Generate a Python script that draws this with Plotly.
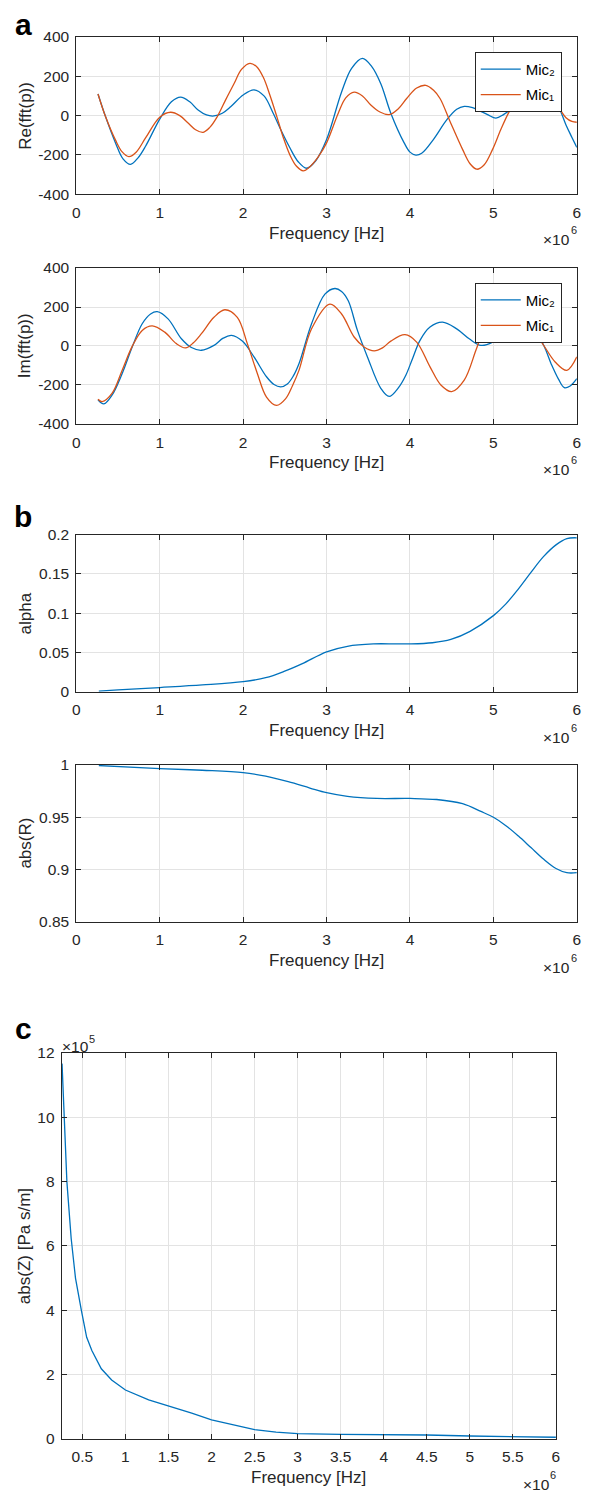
import plotly.graph_objects as go

# ---------------- data (frequency in units of 1e6 Hz) ----------------
re_mic2_f = [0.26, 0.35, 0.47, 0.56, 0.65, 0.74, 0.83, 1.0, 1.14, 1.25, 1.36, 1.46, 1.56, 1.65, 1.75,
             1.85, 2.0, 2.13, 2.25, 2.36, 2.46, 2.56, 2.66, 2.76, 2.87, 3.0, 3.18, 3.3, 3.43,
             3.54, 3.65, 3.77, 3.93, 4.0, 4.07, 4.14, 4.28, 4.44, 4.56, 4.65, 4.75, 4.83, 4.93, 5.03,
             5.12, 5.22, 5.35, 5.48, 5.6, 5.72, 5.79, 5.87, 5.94, 6.0]
re_mic2_v = [110, -5, -139, -220, -248, -215, -156, -18, 70, 94, 70, 28, 3, -2, 12,
             45, 105, 131, 100, 12, -80, -164, -235, -268, -230, -122, 120, 240, 291,
             250, 162, 12, -139, -186, -201, -192, -122, -22, 32, 47, 40, 25, 5, -13,
             5, 37, 100, 130, 120, 80, 36, -48, -110, -162]

re_mic1_f = [0.26, 0.35, 0.47, 0.55, 0.63, 0.72, 0.83, 1.0, 1.13, 1.24, 1.34, 1.43, 1.52, 1.6, 1.69,
             1.79, 1.89, 1.98, 2.08, 2.16, 2.24, 2.32, 2.4, 2.48, 2.56, 2.64, 2.72, 2.8, 2.9,
             3.0, 3.14, 3.23, 3.33, 3.43, 3.53, 3.64, 3.75, 3.86, 3.96, 4.08, 4.19, 4.28, 4.36,
             4.48, 4.63, 4.72, 4.8, 4.89, 4.99, 5.09, 5.19, 5.3, 5.45, 5.6, 5.72, 5.79, 5.87, 5.94, 6.0]
re_mic1_v = [110, -5, -125, -185, -209, -185, -114, -8, 17, 0, -38, -72, -85, -60, -5,
             80, 162, 235, 266, 250, 196, 105, 0, -110, -200, -258, -281, -260, -210,
             -139, 12, 90, 119, 100, 54, 18, 5, 35, 87, 140, 154, 130, 87,
             -30, -172, -245, -273, -250, -172, -70, 20, 90, 130, 115, 70, 36, -11, -30, -34]

im_mic2_f = [0.26, 0.33, 0.43, 0.55, 0.67, 0.79, 0.89, 0.97, 1.1, 1.26, 1.38, 1.5, 1.65, 1.76, 1.86,
             1.99, 2.13, 2.28, 2.37, 2.45, 2.53, 2.6, 2.67, 2.82, 2.98, 3.1, 3.18, 3.26, 3.37,
             3.49, 3.65, 3.75, 3.86, 3.95, 4.03, 4.12, 4.24, 4.39, 4.56, 4.71, 4.85, 4.99, 5.1, 5.25,
             5.4, 5.56, 5.7, 5.78, 5.85, 5.92, 6.0]
im_mic2_v = [-276, -297, -251, -141, -5, 114, 164, 176, 139, 37, -8, -22, 3, 40, 54,
             25, -56, -158, -198, -210, -195, -155, -90, 114, 266, 295, 280, 232, 80,
             -56, -217, -259, -215, -150, -65, 29, 97, 122, 88, 37, 3, 20, 60, 90,
             80, 34, -99, -170, -214, -205, -168]

im_mic1_f = [0.26, 0.31, 0.43, 0.55, 0.67, 0.79, 0.91, 1.06, 1.2, 1.31, 1.4, 1.5, 1.65, 1.78, 1.93,
             2.05, 2.17, 2.28, 2.4, 2.51, 2.59, 2.67, 2.82, 3.04, 3.18, 3.33, 3.45, 3.57, 3.67,
             3.77, 3.94, 4.08, 4.24, 4.37, 4.5, 4.65, 4.79, 4.87, 4.95, 5.1, 5.25, 5.4, 5.55,
             5.74, 5.88, 6.0]
im_mic1_v = [-273, -285, -242, -124, -2, 80, 103, 71, 12, -10, 15, 63, 147, 186, 147,
             12, -141, -262, -305, -270, -205, -124, 88, 215, 164, 46, -5, -25, -10,
             25, 58, 20, -107, -200, -234, -175, -22, 71, 130, 170, 150, 90, 34,
             -82, -125, -56]

alpha_f = [0.27, 0.5, 1.0, 1.51, 2.0, 2.27, 2.49, 2.71, 3.0, 3.25, 3.56, 3.83, 4.0, 4.27, 4.49,
           4.72, 5.0, 5.15, 5.3, 5.45, 5.6, 5.75, 5.88, 6.0]
alpha_v = [0.001, 0.0025, 0.0055, 0.0088, 0.013, 0.018, 0.026, 0.036, 0.051, 0.058, 0.061, 0.061,
           0.061, 0.0625, 0.0667, 0.077, 0.097, 0.112, 0.131, 0.152, 0.172, 0.187, 0.195, 0.196]

absR_f = [0.27, 1.0, 1.51, 2.0, 2.27, 2.54, 2.8, 3.0, 3.25, 3.6, 4.0, 4.32, 4.63, 4.85, 5.0,
          5.15, 5.3, 5.45, 5.6, 5.75, 5.88, 6.0]
absR_v = [0.9995, 0.9965, 0.995, 0.9928, 0.9893, 0.984, 0.978, 0.9735, 0.970, 0.968, 0.968,
          0.967, 0.963, 0.9556, 0.950, 0.942, 0.932, 0.921, 0.910, 0.901, 0.897, 0.897]

# |Z| in units of 1e5 Pa s/m
absZ_f = [0.264, 0.29, 0.32, 0.37, 0.42, 0.49, 0.55, 0.61, 0.72, 0.84, 1.0, 1.27, 1.5, 1.77, 2.0,
          2.25, 2.5, 2.75, 3.0, 3.5, 4.0, 4.5, 5.0, 5.5, 6.0]
absZ_v = [11.67, 10.0, 8.0, 6.23, 5.0, 3.97, 3.16, 2.75, 2.18, 1.83, 1.52, 1.21, 1.03, 0.80, 0.59,
          0.43, 0.29, 0.21, 0.165, 0.14, 0.14, 0.12, 0.09, 0.06, 0.05]

x_ticks_ab = [0, 1, 2, 3, 4, 5, 6]
x_ticks_c = [0.5, 1, 1.5, 2, 2.5, 3, 3.5, 4, 4.5, 5, 5.5, 6]
x_ticktext_c = ["0.5", "1", "1.5", "2", "2.5", "3", "3.5", "4", "4.5", "5", "5.5", "6"]
y_ticks_fft = [-400, -200, 0, 200, 400]
y_ticktext_fft = ["-400", "-200", "0", "200", "400"]
y_ticks_alpha = [0, 0.05, 0.1, 0.15, 0.2]
y_ticktext_alpha = ["0", "0.05", "0.1", "0.15", "0.2"]
y_ticks_R = [0.85, 0.9, 0.95, 1.0]
y_ticktext_R = ["0.85", "0.9", "0.95", "1"]
y_ticks_Z = [0, 2, 4, 6, 8, 10, 12]

# ---------------- styling ----------------
W, H = 591, 1497
BLUE = "#0072BD"
ORANGE = "#D95319"
AX = "#262626"
GRID = "#e3e3e3"
FONT = "Liberation Sans, Arial, Helvetica, sans-serif"
TICK_FS = 15.5
LAB_FS = 17
SUP_FS = 11


def px_y(p):
    return 1 - p / H


def px_x(p):
    return p / W


fig = go.Figure()

line_kw = dict(width=1.3)
fig.add_trace(go.Scatter(x=re_mic2_f, y=re_mic2_v, mode="lines", name="Mic₂",
                         line=dict(color=BLUE, shape="spline", **line_kw), xaxis="x", yaxis="y",
                         legend="legend", legendgroup="a2"))
fig.add_trace(go.Scatter(x=re_mic1_f, y=re_mic1_v, mode="lines", name="Mic₁",
                         line=dict(color=ORANGE, shape="spline", **line_kw), xaxis="x", yaxis="y",
                         legend="legend", legendgroup="a1"))
fig.add_trace(go.Scatter(x=im_mic2_f, y=im_mic2_v, mode="lines", name="Mic₂",
                         line=dict(color=BLUE, shape="spline", **line_kw), xaxis="x2", yaxis="y2",
                         legend="legend2", legendgroup="b2"))
fig.add_trace(go.Scatter(x=im_mic1_f, y=im_mic1_v, mode="lines", name="Mic₁",
                         line=dict(color=ORANGE, shape="spline", **line_kw), xaxis="x2", yaxis="y2",
                         legend="legend2", legendgroup="b1"))
fig.add_trace(go.Scatter(x=alpha_f, y=alpha_v, mode="lines", showlegend=False,
                         line=dict(color=BLUE, shape="spline", **line_kw), xaxis="x3", yaxis="y3"))
fig.add_trace(go.Scatter(x=absR_f, y=absR_v, mode="lines", showlegend=False,
                         line=dict(color=BLUE, shape="spline", **line_kw), xaxis="x4", yaxis="y4"))
fig.add_trace(go.Scatter(x=absZ_f, y=absZ_v, mode="lines", showlegend=False,
                         line=dict(color=BLUE, **line_kw), xaxis="x5", yaxis="y5"))

common_ax = dict(showline=True, linecolor=AX, linewidth=1, mirror="ticks", ticks="inside",
                 ticklen=5, tickcolor=AX, tickwidth=1, showgrid=True, gridcolor=GRID, gridwidth=1,
                 zeroline=False, tickfont=dict(family=FONT, size=TICK_FS, color=AX), tickmode="array")

xdom_ab = [px_x(73.3), px_x(580.7)]
xdom_c = [px_x(58.5), px_x(559.5)]
panels = [
    ("", xdom_ab, (28.3, 187.3), [0, 6], x_ticks_ab, [str(v) for v in x_ticks_ab], [-400, 400], y_ticks_fft, y_ticktext_fft),
    ("2", xdom_ab, (262.0, 419.7), [0, 6], x_ticks_ab, [str(v) for v in x_ticks_ab], [-400, 400], y_ticks_fft, y_ticktext_fft),
    ("3", xdom_ab, (531.7, 690.7), [0, 6], x_ticks_ab, [str(v) for v in x_ticks_ab], [0, 0.2], y_ticks_alpha, y_ticktext_alpha),
    ("4", xdom_ab, (764.7, 923.3), [0, 6], x_ticks_ab, [str(v) for v in x_ticks_ab], [0.85, 1.0], y_ticks_R, y_ticktext_R),
    ("5", xdom_c, (1056.0, 1446.3), [0.26, 6], x_ticks_c, x_ticktext_c, [0, 12], y_ticks_Z, [str(v) for v in y_ticks_Z]),
]


def ann(text, xpx, ypx, size, xanchor="center", color=AX, angle=0):
    return dict(text=text, x=px_x(xpx), y=px_y(ypx), xref="paper", yref="paper", xanchor=xanchor,
                yanchor="middle", showarrow=False, textangle=angle, borderpad=0, borderwidth=0,
                font=dict(family=FONT, size=size, color=color))


layout_axes = {}
annotations = []
for sfx, xdom, (ytop, ybot), xr, xt, xtt, yr, yt, ytt in panels:
    layout_axes["xaxis" + sfx] = dict(domain=xdom, range=xr, anchor="y" + sfx, tickvals=xt,
                                      ticktext=xtt, ticklabelstandoff=4, **common_ax)
    layout_axes["yaxis" + sfx] = dict(domain=[px_y(ybot), px_y(ytop)], range=yr, anchor="x" + sfx,
                                      tickvals=yt, ticktext=ytt, ticklabelstandoff=3, **common_ax)
    xl, xrt = xdom[0] * W, xdom[1] * W
    annotations.append(ann("Frequency [Hz]", (xl + xrt) / 2, ybot + 39.5, LAB_FS))
    # exponent label  x10^6 (base and superscript as two texts)
    annotations.append(ann("×10", xrt - 6.5, ybot + 46, TICK_FS, xanchor="right"))
    annotations.append(ann("6", xrt - 6.0, ybot + 36.5, SUP_FS, xanchor="left"))

ytitles = [("Re(fft(p))", (28.3, 187.3)), ("Im(fft(p))", (262.0, 419.7)), ("alpha", (531.7, 690.7)),
           ("abs(R)", (764.7, 923.3)), ("abs(Z) [Pa s/m]", (1056.0, 1446.3))]
for txt, (yt_, yb_) in ytitles:
    annotations.append(ann(txt, 21.5, (yt_ + yb_) / 2, LAB_FS, angle=-90))

# exponent label for panel c y axis: x10^5
annotations.append(ann("×10", 58.5, 1049.5, TICK_FS, xanchor="left"))
annotations.append(ann("5", 86.3, 1042.0, SUP_FS, xanchor="left"))

# panel letters
for letter, ypx in [("a", 16), ("b", 513), ("c", 1031)]:
    annotations.append(ann("<b>%s</b>" % letter, 19.5, ypx, 30, color="#000000"))

legend_common = dict(xanchor="left", yanchor="top", bgcolor="#ffffff", bordercolor=AX, borderwidth=1,
                     font=dict(family=FONT, size=15, color="#000000"), itemwidth=40, tracegroupgap=3)

fig.update_layout(
    width=W, height=H,
    margin=dict(l=0, r=0, t=0, b=0),
    paper_bgcolor="#ffffff", plot_bgcolor="#ffffff",
    showlegend=True,
    legend=dict(x=px_x(477.2), y=px_y(43.3), **legend_common),
    legend2=dict(x=px_x(477.2), y=px_y(276.7), **legend_common),
    annotations=annotations,
    **layout_axes,
)

fig.write_html(
    "out.html",
    post_script="document.body.style.margin='0';document.body.style.padding='0';"
                "document.documentElement.style.margin='0';",
)
